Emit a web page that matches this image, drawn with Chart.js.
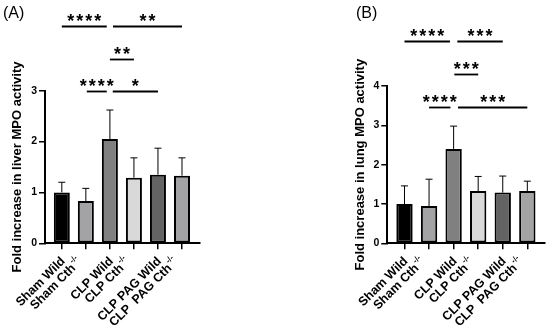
<!DOCTYPE html>
<html>
<head>
<meta charset="utf-8">
<script src="https://cdn.jsdelivr.net/npm/chart.js@4.4.0/dist/chart.umd.min.js"></script>
<style>
    body { margin: 0; background: #fff; }
    #wrap { position: relative; width: 550px; height: 328px; font-family: Arial, "Liberation Sans", sans-serif; }
    canvas { position: absolute; top: 0; }
    .tag { position: absolute; top: 4px; font-size: 16px; color: #000; }
</style>
</head>
<body>
<div id="wrap">
    <canvas id="liverChart" width="275" height="328" style="left:0"></canvas>
    <canvas id="lungChart" width="275" height="328" style="left:275px"></canvas>
    <div class="tag" style="left:3px">(A)</div>
    <div class="tag" style="left:356px">(B)</div>
</div>
<script>
// groups (knockout ones get the -/- superscript)
const groups = ['Sham Wild', 'Sham Cth', 'CLP Wild', 'CLP Cth', 'CLP PAG Wild', 'CLP  PAG Cth'];
const knockout = [false, true, false, true, false, true];
const barColors = ['#000000', '#a3a3a6', '#808080', '#d9d9d9', '#636363', '#a3a3a6'];

// (A) liver
const liverMean = [1.0, 0.83, 2.05, 1.29, 1.35, 1.33];
const liverSD = [0.20, 0.25, 0.57, 0.39, 0.52, 0.35];
const liverTicks = [0, 1, 2, 3];
const liverSig = [
    { from: 0, to: 1.87, y: 4.28, stars: '****' },
    { from: 2.13, to: 5, y: 4.28, stars: '**' },
    { from: 2, to: 3, y: 3.63, stars: '**' },
    { from: 1.04, to: 1.87, y: 2.99, stars: '****' },
    { from: 2.12, to: 4, y: 2.99, stars: '*' }
];

// (B) lung
const lungMean = [1.0, 0.95, 2.40, 1.33, 1.29, 1.33];
const lungSD = [0.46, 0.68, 0.58, 0.37, 0.42, 0.25];
const lungTicks = [0, 1, 2, 3, 4];
const lungSig = [
    { from: 0, to: 1.85, y: 5.15, stars: '****' },
    { from: 2.15, to: 4, y: 5.15, stars: '***' },
    { from: 2.03, to: 3, y: 4.30, stars: '***' },
    { from: 1, to: 1.87, y: 3.47, stars: '****' },
    { from: 2.18, to: 5, y: 3.47, stars: '***' }
];

const FONT = 'Arial, "Liberation Sans", sans-serif';

function makeChart(id, means, sds, ticks, sig, yTitle, box) {
    // error bars (upper only, with cap)
    const errorBars = {
        id: 'errorBars',
        afterDatasetsDraw(chart) {
            const ctx = chart.ctx;
            const y = chart.scales.y;
            ctx.save();
            ctx.strokeStyle = '#000';
            ctx.lineWidth = 1;
            chart.getDatasetMeta(0).data.forEach((bar, i) => {
                const top = y.getPixelForValue(means[i] + sds[i]);
                ctx.beginPath();
                ctx.moveTo(bar.x, bar.y);
                ctx.lineTo(bar.x, top);
                ctx.moveTo(bar.x - 3.5, top);
                ctx.lineTo(bar.x + 3.5, top);
                ctx.stroke();
            });
            ctx.restore();
        }
    };

    // rotated category labels + significance brackets
    const extras = {
        id: 'extras',
        afterDraw(chart) {
            const ctx = chart.ctx;
            const x = chart.scales.x;
            const y = chart.scales.y;
            const bottom = chart.chartArea.bottom;
            ctx.save();
            ctx.fillStyle = '#000';
            groups.forEach((g, i) => {
                const cx = x.getPixelForValue(i);
                ctx.save();
                if (knockout[i]) ctx.translate(cx - 6, bottom + 17);
                else ctx.translate(cx + 1.5, bottom + 16);
                ctx.rotate(-Math.PI / 4);
                ctx.textBaseline = 'middle';
                ctx.textAlign = 'left';
                ctx.font = 'bold 12.5px ' + FONT;
                const mainW = ctx.measureText(g).width;
                let supW = 0;
                if (knockout[i]) {
                    ctx.font = 'bold 8px ' + FONT;
                    supW = ctx.measureText('-/-').width + 1;
                }
                ctx.font = 'bold 12.5px ' + FONT;
                ctx.fillText(g, -(mainW + supW), 0);
                if (knockout[i]) {
                    ctx.font = 'bold 8px ' + FONT;
                    ctx.fillText('-/-', -supW + 1, -5);
                }
                ctx.restore();
            });

            ctx.strokeStyle = '#000';
            ctx.lineWidth = 1.8;
            ctx.font = 'bold 18px ' + FONT;
            ctx.textAlign = 'center';
            ctx.textBaseline = 'alphabetic';
            const m = ctx.measureText('*');
            const shift = (m.actualBoundingBoxAscent - m.actualBoundingBoxDescent) / 2;
            sig.forEach(s => {
                const x1 = x.getPixelForValue(s.from);
                const x2 = x.getPixelForValue(s.to);
                const py = Math.round(y.getPixelForValue(s.y)) + 0.5;
                ctx.beginPath();
                ctx.moveTo(x1, py);
                ctx.lineTo(x2, py);
                ctx.stroke();
                const mid = (x1 + x2) / 2;
                const n = s.stars.length;
                for (let k = 0; k < n; k++) {
                    ctx.fillText('*', mid + (k - (n - 1) / 2) * 9, py - 9 + shift);
                }
            });
            ctx.restore();
        }
    };

    return new Chart(document.getElementById(id), {
        type: 'bar',
        data: {
            datasets: [{
                data: means.map((v, i) => ({ x: i, y: v })),
                backgroundColor: barColors,
                borderColor: '#000',
                borderWidth: 2,
                borderSkipped: false,
                barPercentage: 0.665,
                categoryPercentage: 1
            }]
        },
        options: {
            responsive: false,
            animation: false,
            layout: { padding: { left: box.left, right: box.right, top: box.top, bottom: 0 } },
            plugins: { legend: { display: false }, tooltip: { enabled: false } },
            scales: {
                x: {
                    type: 'linear',
                    bounds: 'data',
                    offset: false,
                    min: -0.7,
                    max: 5.72,
                    afterBuildTicks: s => { s.ticks = groups.map((g, i) => ({ value: i })); },
                    afterFit: s => { s.height = box.xHeight; },
                    ticks: { display: false },
                    grid: { offset: false, drawOnChartArea: false, drawTicks: true, tickLength: 6, color: '#000', lineWidth: 1.5 },
                    border: { color: '#000', width: 2 }
                },
                y: {
                    min: 0,
                    max: ticks[ticks.length - 1],
                    afterBuildTicks: s => { s.ticks = ticks.map(v => ({ value: v })); },
                    afterFit: s => { s.width = box.yWidth; },
                    ticks: { color: '#000', padding: 2, font: { family: FONT, size: 10.5, weight: 'bold' } },
                    grid: { drawOnChartArea: false, drawTicks: true, tickLength: 6, color: '#000', lineWidth: 1.5 },
                    border: { color: '#000', width: 2 },
                    title: {
                        display: true,
                        text: yTitle,
                        color: '#000',
                        padding: { top: 10, bottom: 0 },
                        font: { family: FONT, size: 13, weight: 'bold' }
                    }
                }
            }
        },
        plugins: [errorBars, extras]
    });
}

document.addEventListener('DOMContentLoaded', function () {
    makeChart('liverChart', liverMean, liverSD, liverTicks, liverSig,
        'Fold increase in liver MPO activity',
        { left: 0, right: 75.7, top: 90.7, yWidth: 45, xHeight: 84.7 });
    makeChart('lungChart', lungMean, lungSD, lungTicks, lungSig,
        'Fold increase in lung MPO activity',
        { left: 68, right: 5, top: 86, yWidth: 44.3, xHeight: 84.7 });
});
</script>
</body>
</html>
